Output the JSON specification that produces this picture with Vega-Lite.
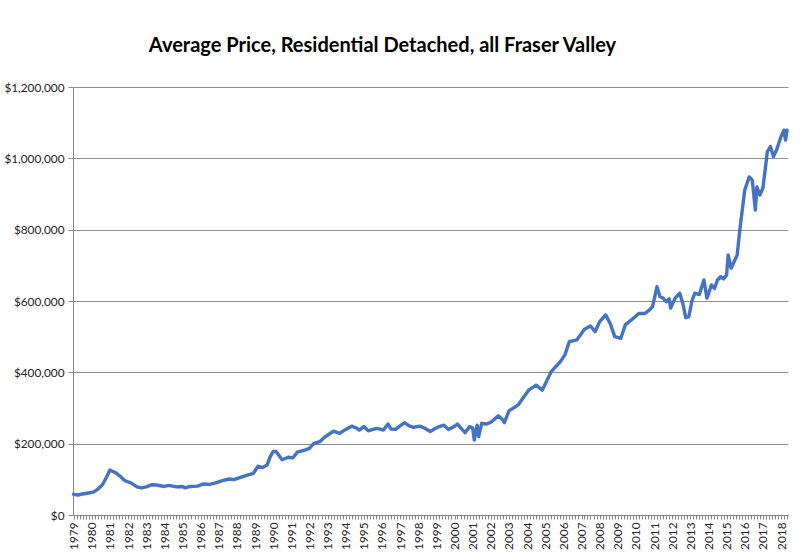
{
  "$schema": "https://vega.github.io/schema/vega-lite/v6.json",
  "autosize": {"type": "none"},
  "width": 715,
  "height": 428,
  "padding": {"left": 73, "top": 87, "right": 12, "bottom": 42},
  "background": "white",
  "title": {
    "text": "Average Price, Residential Detached, all Fraser Valley",
    "font": "Lato",
    "fontSize": 20,
    "fontWeight": "bold",
    "color": "#000000",
    "anchor": "middle",
    "dx": -48,
    "offset": 26
  },
  "config": {
    "view": {"stroke": null},
    "axis": {"labelFont": "Lato", "labelColor": "#222222", "labelFontSize": 11.8}
  },
  "data": {
    "values": [
      {"date": "1979-01", "price": 58000},
      {"date": "1979-04", "price": 56000},
      {"date": "1979-07", "price": 59000},
      {"date": "1979-10", "price": 61000},
      {"date": "1980-02", "price": 64000},
      {"date": "1980-05", "price": 72000},
      {"date": "1980-08", "price": 84000},
      {"date": "1980-11", "price": 108000},
      {"date": "1981-01", "price": 126000},
      {"date": "1981-03", "price": 122000},
      {"date": "1981-05", "price": 118000},
      {"date": "1981-08", "price": 108000},
      {"date": "1981-11", "price": 96000},
      {"date": "1982-03", "price": 90000},
      {"date": "1982-07", "price": 79000},
      {"date": "1982-10", "price": 76000},
      {"date": "1983-01", "price": 79000},
      {"date": "1983-05", "price": 85000},
      {"date": "1983-08", "price": 84000},
      {"date": "1984-01", "price": 80000},
      {"date": "1984-04", "price": 83000},
      {"date": "1984-09", "price": 79000},
      {"date": "1985-01", "price": 80000},
      {"date": "1985-03", "price": 76000},
      {"date": "1985-06", "price": 80000},
      {"date": "1985-11", "price": 81000},
      {"date": "1986-03", "price": 87000},
      {"date": "1986-07", "price": 86000},
      {"date": "1986-11", "price": 90000},
      {"date": "1987-04", "price": 97000},
      {"date": "1987-08", "price": 101000},
      {"date": "1987-11", "price": 99000},
      {"date": "1988-03", "price": 105000},
      {"date": "1988-08", "price": 112000},
      {"date": "1988-12", "price": 117000},
      {"date": "1989-03", "price": 137000},
      {"date": "1989-06", "price": 133000},
      {"date": "1989-09", "price": 140000},
      {"date": "1989-11", "price": 163000},
      {"date": "1990-01", "price": 178000},
      {"date": "1990-03", "price": 178000},
      {"date": "1990-07", "price": 155000},
      {"date": "1990-11", "price": 162000},
      {"date": "1991-02", "price": 160000},
      {"date": "1991-05", "price": 176000},
      {"date": "1991-10", "price": 182000},
      {"date": "1992-01", "price": 187000},
      {"date": "1992-04", "price": 201000},
      {"date": "1992-08", "price": 206000},
      {"date": "1992-11", "price": 218000},
      {"date": "1993-05", "price": 235000},
      {"date": "1993-09", "price": 229000},
      {"date": "1994-01", "price": 240000},
      {"date": "1994-05", "price": 249000},
      {"date": "1994-08", "price": 244000},
      {"date": "1994-10", "price": 238000},
      {"date": "1995-01", "price": 248000},
      {"date": "1995-04", "price": 236000},
      {"date": "1995-07", "price": 240000},
      {"date": "1995-10", "price": 243000},
      {"date": "1996-02", "price": 238000},
      {"date": "1996-05", "price": 255000},
      {"date": "1996-07", "price": 241000},
      {"date": "1996-10", "price": 240000},
      {"date": "1997-01", "price": 250000},
      {"date": "1997-04", "price": 259000},
      {"date": "1997-07", "price": 250000},
      {"date": "1997-10", "price": 246000},
      {"date": "1998-02", "price": 249000},
      {"date": "1998-05", "price": 244000},
      {"date": "1998-09", "price": 234000},
      {"date": "1998-12", "price": 242000},
      {"date": "1999-03", "price": 248000},
      {"date": "1999-06", "price": 252000},
      {"date": "1999-09", "price": 240000},
      {"date": "1999-12", "price": 246000},
      {"date": "2000-03", "price": 255000},
      {"date": "2000-06", "price": 240000},
      {"date": "2000-08", "price": 231000},
      {"date": "2000-11", "price": 248000},
      {"date": "2001-01", "price": 244000},
      {"date": "2001-02", "price": 210000},
      {"date": "2001-04", "price": 252000},
      {"date": "2001-05", "price": 220000},
      {"date": "2001-07", "price": 257000},
      {"date": "2001-10", "price": 255000},
      {"date": "2002-01", "price": 260000},
      {"date": "2002-06", "price": 278000},
      {"date": "2002-09", "price": 266000},
      {"date": "2002-10", "price": 259000},
      {"date": "2003-01", "price": 292000},
      {"date": "2003-07", "price": 308000},
      {"date": "2004-02", "price": 350000},
      {"date": "2004-07", "price": 364000},
      {"date": "2004-11", "price": 350000},
      {"date": "2005-05", "price": 402000},
      {"date": "2005-11", "price": 430000},
      {"date": "2006-02", "price": 449000},
      {"date": "2006-05", "price": 486000},
      {"date": "2006-10", "price": 491000},
      {"date": "2007-03", "price": 521000},
      {"date": "2007-07", "price": 530000},
      {"date": "2007-10", "price": 514000},
      {"date": "2008-01", "price": 542000},
      {"date": "2008-05", "price": 561000},
      {"date": "2008-08", "price": 537000},
      {"date": "2008-11", "price": 500000},
      {"date": "2009-03", "price": 495000},
      {"date": "2009-06", "price": 533000},
      {"date": "2009-10", "price": 547000},
      {"date": "2010-03", "price": 565000},
      {"date": "2010-07", "price": 565000},
      {"date": "2010-10", "price": 575000},
      {"date": "2010-12", "price": 584000},
      {"date": "2011-03", "price": 640000},
      {"date": "2011-05", "price": 612000},
      {"date": "2011-07", "price": 608000},
      {"date": "2011-09", "price": 598000},
      {"date": "2011-11", "price": 606000},
      {"date": "2011-12", "price": 580000},
      {"date": "2012-03", "price": 608000},
      {"date": "2012-06", "price": 622000},
      {"date": "2012-08", "price": 594000},
      {"date": "2012-10", "price": 553000},
      {"date": "2012-12", "price": 556000},
      {"date": "2013-02", "price": 600000},
      {"date": "2013-04", "price": 622000},
      {"date": "2013-07", "price": 618000},
      {"date": "2013-10", "price": 659000},
      {"date": "2013-12", "price": 608000},
      {"date": "2014-03", "price": 645000},
      {"date": "2014-05", "price": 635000},
      {"date": "2014-07", "price": 659000},
      {"date": "2014-09", "price": 668000},
      {"date": "2014-11", "price": 662000},
      {"date": "2015-01", "price": 673000},
      {"date": "2015-02", "price": 729000},
      {"date": "2015-04", "price": 692000},
      {"date": "2015-08", "price": 729000},
      {"date": "2015-10", "price": 808000},
      {"date": "2016-01", "price": 911000},
      {"date": "2016-04", "price": 948000},
      {"date": "2016-06", "price": 939000},
      {"date": "2016-08", "price": 855000},
      {"date": "2016-09", "price": 920000},
      {"date": "2016-11", "price": 897000},
      {"date": "2017-01", "price": 917000},
      {"date": "2017-04", "price": 1019000},
      {"date": "2017-06", "price": 1033000},
      {"date": "2017-08", "price": 1005000},
      {"date": "2017-10", "price": 1023000},
      {"date": "2018-01", "price": 1061000},
      {"date": "2018-03", "price": 1079000},
      {"date": "2018-04", "price": 1051000},
      {"date": "2018-05", "price": 1079000}
    ]
  },
  "mark": {"type": "line", "color": "#4472C4", "strokeWidth": 3.4, "strokeJoin": "round", "strokeCap": "round"},
  "encoding": {
    "x": {
      "field": "date",
      "type": "temporal",
      "scale": {"domain": ["1978-12-20", "2018-05-21"]},
      "axis": {
        "title": null,
        "grid": false,
        "tickCount": {"interval": "month", "step": 2},
        "labelExpr": "month(datum.value) == 0 ? timeFormat(datum.value, '%Y') : ''",
        "labelAngle": 270,
        "labelOverlap": false,
        "labelFlush": false,
        "labelPadding": 3,
        "tickSize": 4,
        "tickColor": "#888888",
        "domainColor": "#888888"
      }
    },
    "y": {
      "field": "price",
      "type": "quantitative",
      "scale": {"domain": [0, 1200000]},
      "axis": {
        "title": null,
        "values": [0, 200000, 400000, 600000, 800000, 1000000, 1200000],
        "format": "$,.0f",
        "grid": true,
        "gridColor": "#8c8c8c",
        "gridWidth": 1,
        "tickSize": 5,
        "tickColor": "#888888",
        "domainColor": "#888888",
        "labelPadding": 4
      }
    }
  }
}
